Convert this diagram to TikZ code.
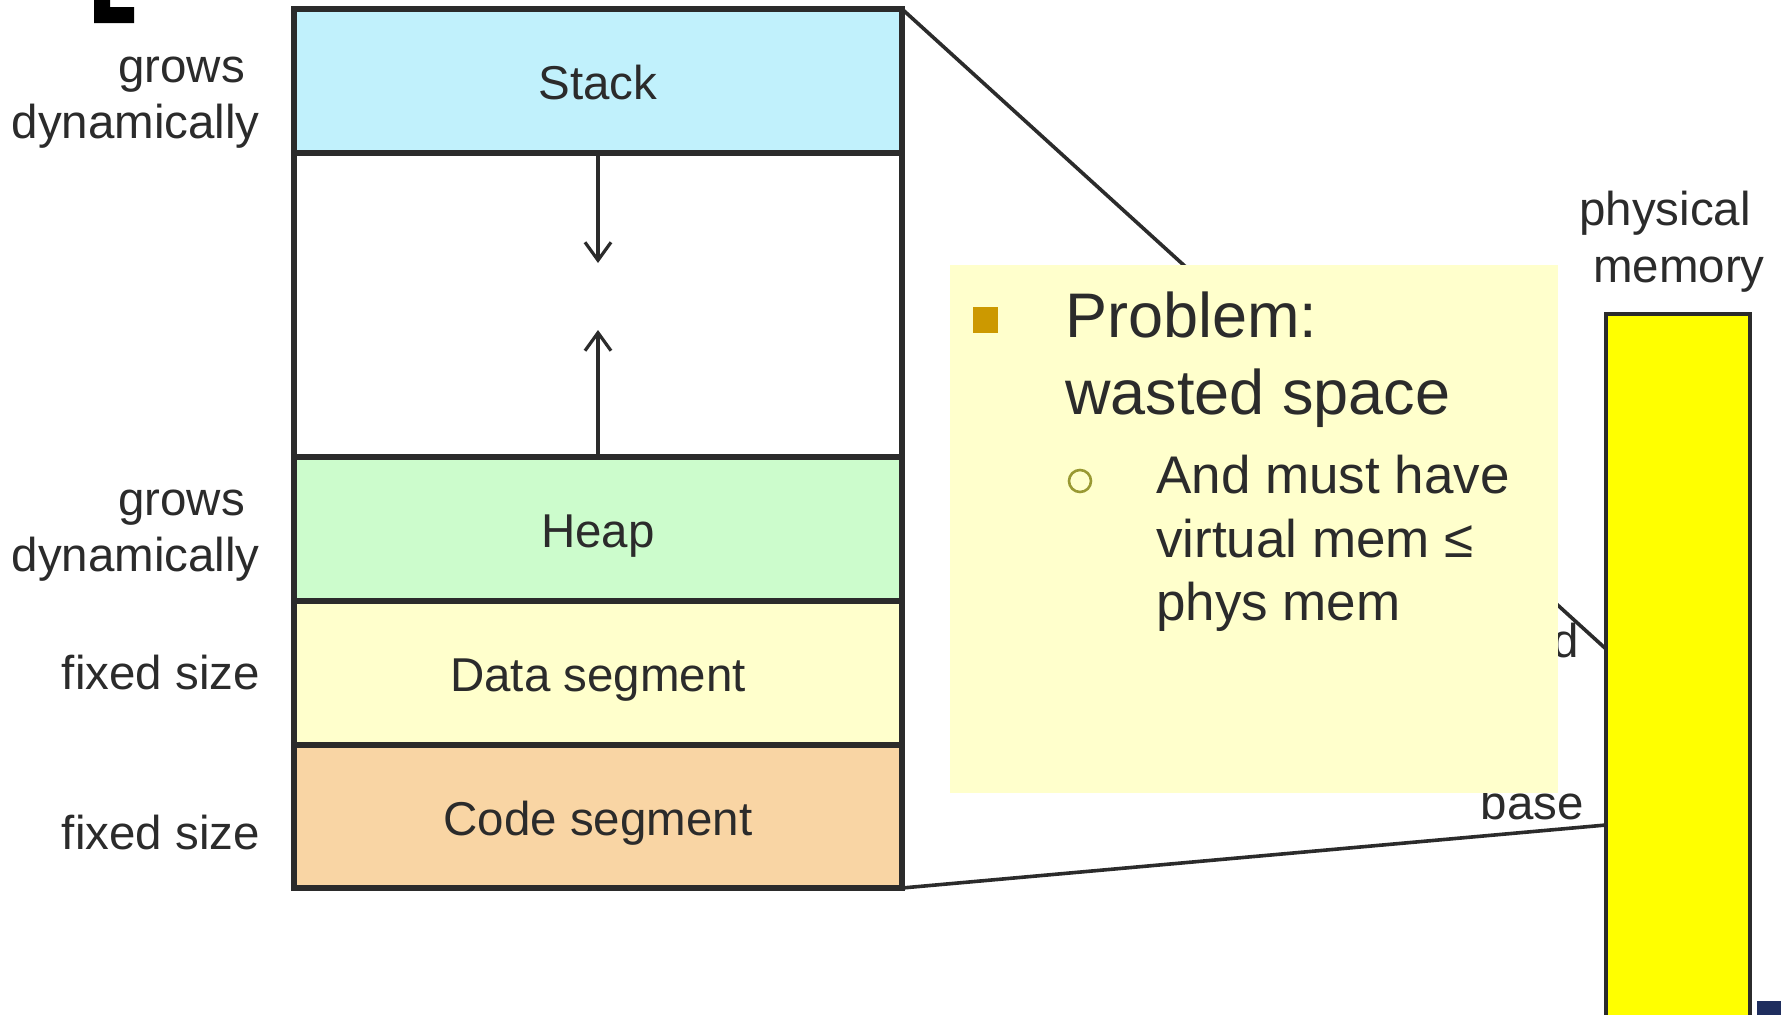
\documentclass[tikz,border=0pt]{standalone}
\usepackage{fontspec}
\setmainfont{Liberation Sans}
\usetikzlibrary{arrows.meta,calc}
\definecolor{ink}{HTML}{2B2B2B}
\definecolor{stackc}{HTML}{C1F1FC}
\definecolor{heapc}{HTML}{CCFCCC}
\definecolor{datac}{HTML}{FFFFCC}
\definecolor{codec}{HTML}{F9D5A4}
\definecolor{notec}{HTML}{FFFFCC}
\definecolor{physc}{HTML}{FFFF00}
\definecolor{bulletc}{HTML}{CC9900}
\definecolor{subbulletc}{HTML}{999933}
\definecolor{cornerc}{HTML}{1F2E5E}
\tikzset{
  seg/.style={draw=ink, line width=5.5pt, inner sep=0pt, outer sep=0pt,
    minimum width=608pt, text=ink, text height=37pt, text depth=0pt,
    font=\fontsize{47.5}{57}\selectfont},
  side/.style={text=ink, inner sep=0pt, font=\fontsize{47.5}{57}\selectfont},
  mainpt/.style={text=ink, inner sep=0pt, anchor=base west, font=\fontsize{63}{77}\selectfont},
  subpt/.style={text=ink, inner sep=0pt, anchor=base west, font=\fontsize{53}{64}\selectfont},
  link/.style={draw=ink, line width=3.6pt},
  growarrow/.style={draw=ink, line width=3.2pt, -{Straight Barb[length=18pt,width=26pt]}}
}
\begin{document}
\begin{tikzpicture}[x=1pt,y=-1pt]
\useasboundingbox (0,0) rectangle (1781,1015);
\fill[white] (0,0) rectangle (1781,1015);

% corner mark
\fill[black] (94,0) -- (110,0) -- (110,7) -- (134,7) -- (134,23) -- (94,23) -- cycle;

% physical memory column
\node[draw=ink, line width=3.5pt, fill=physc, inner sep=0pt, outer sep=0pt,
  minimum width=144pt, minimum height=720pt, anchor=north west] (phys) at (1606,314) {};
\node[side, anchor=base west] (physA) at (1579,225) {physical};
\node[side, anchor=base west] (physB) at (1593,282) {memory};
\fill[cornerc] (1757,1001) rectangle (1781,1015);

% address space segments
\node[seg, fill=stackc, minimum height=144pt] (stack) at (598,81) {Stack};
\node[seg, fill=white, minimum height=304pt] (free) at (598,305) {};
\node[seg, fill=heapc, minimum height=144pt] (heap) at (598,529) {Heap};
\node[seg, fill=datac, minimum height=144pt] (data) at (598,673) {Data segment};
\node[seg, fill=codec, minimum height=143pt] (code) at (598,816.5) {Code segment};

% growth arrows
\coordinate (stackend) at (598,263);
\coordinate (heapend) at (598,330);
\draw[growarrow] (stack.south) -- (stackend);
\draw[growarrow] (heap.north) -- (heapend);

% mapping lines to physical memory
\coordinate (limitpt) at ($(phys.north west)+(0,335)$);
\coordinate (basept) at ($(phys.north west)+(0,511)$);
\draw[link] (stack.north east) -- (limitpt);
\draw[link] (code.south east) -- (basept);
\node[side, anchor=base east] (limlbl) at (1579,657) {d};
\node[side, anchor=base east] (baselbl) at (1584,819) {base};

% side labels
\node[side, anchor=base east] (g1a) at (245,82) {grows};
\node[side, anchor=base east] (g1b) at (260,138) {dynamically};
\node[side, anchor=base east] (g2a) at (245,515) {grows};
\node[side, anchor=base east] (g2b) at (260,571) {dynamically};
\node[side, anchor=base east] (f1) at (260,689) {fixed size};
\node[side, anchor=base east] (f2) at (260,849) {fixed size};

% note
\node[fill=notec, inner sep=0pt, outer sep=0pt, minimum width=608pt,
  minimum height=528pt, anchor=north west] (note) at (950,265) {};
\fill[bulletc] (973,307) rectangle (998,333);
\draw[subbulletc, line width=2.6pt] (1080,481) circle (11pt);
\node[mainpt] (p1) at (1065,337) {Problem:};
\node[mainpt] (p2) at (1065,414) {wasted space};
\node[subpt] (s1) at (1156,493) {And must have};
\node[subpt] (s2) at (1156,557) {virtual mem ≤};
\node[subpt] (s3) at (1156,620) {phys mem};
\end{tikzpicture}
\end{document}
